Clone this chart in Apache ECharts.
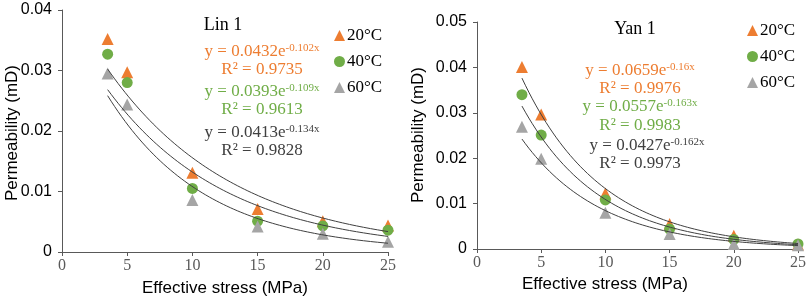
<!DOCTYPE html>
<html>
<head>
<meta charset="utf-8">
<script src="https://cdn.jsdelivr.net/npm/echarts@6/dist/echarts.min.js"></script>
<style>
html,body{margin:0;padding:0;background:#fff;}
#chart{width:809px;height:303px;}
</style>
</head>
<body>
<div id="chart"></div>
<script>
// ---- Data ----
const stress = [3.5, 5, 10, 15, 20, 25];
const tempNames = ['20°C', '40°C', '60°C'];

const lin20 = [0.0352, 0.0297, 0.0131, 0.0071, 0.0051, 0.0044];
const lin40 = [0.0327, 0.0280, 0.0105, 0.0051, 0.0043, 0.0036];
const lin60 = [0.0295, 0.0244, 0.0086, 0.0042, 0.0030, 0.0017];

const yan20 = [0.0401, 0.0296, 0.0122, 0.0055, 0.0029, 0.0010];
const yan40 = [0.0340, 0.0251, 0.0108, 0.0044, 0.0021, 0.0011];
const yan60 = [0.0269, 0.0199, 0.0080, 0.0033, 0.0011, 0.0008];

// exponential trendline coefficients shown in the chart: y = a * e^(b x)
const linFitA = [0.0432, 0.0393, 0.0413];
const linFitB = [-0.102, -0.109, -0.134];
const linR2 = ['0.9735', '0.9613', '0.9828'];
const yanFitA = [0.0659, 0.0557, 0.0427];
const yanFitB = [-0.16, -0.163, -0.162];
const yanR2 = ['0.9976', '0.9983', '0.9973'];

const xTicks = [0, 5, 10, 15, 20, 25];
const linYTicks = [0, 0.01, 0.02, 0.03, 0.04];
const yanYTicks = [0, 0.01, 0.02, 0.03, 0.04, 0.05];

// ---- Styles ----
const colors = ['#ED7D31', '#70AD47', '#A5A5A5'];
const eqColors = ['#ED7D31', '#70AD47', '#404040'];
const symbols = ['triangle', 'circle', 'triangle'];
const SERIF = '"Liberation Serif", "Times New Roman", serif';
const SANS = '"Liberation Sans", Arial, sans-serif';

function pairs(xs, ys) { return xs.map((x, i) => [x, ys[i]]); }
function trend(a, b) {
  const pts = [];
  const x0 = stress[0], x1 = stress[stress.length - 1];
  const n = 80;
  for (let i = 0; i <= n; i++) {
    const x = x0 + (x1 - x0) * i / n;
    pts.push([x, a * Math.exp(b * x)]);
  }
  return pts;
}
function fmtB(b) { return String(b).replace('-0.', '-0.'); }

const axisLineStyle = { color: '#595959', width: 1 };

function xAxisFor(gi) {
  return {
    type: 'value', gridIndex: gi, min: xTicks[0], max: xTicks[xTicks.length - 1], interval: 5,
    axisLine: { show: true, lineStyle: axisLineStyle },
    axisTick: { show: true, length: 4, lineStyle: axisLineStyle },
    splitLine: { show: false },
    axisLabel: { fontFamily: SERIF, fontSize: 16, color: '#595959', margin: 6 }
  };
}
function yAxisFor(gi, ticks) {
  return {
    type: 'value', gridIndex: gi, min: 0, max: ticks[ticks.length - 1], interval: 0.01,
    axisLine: { show: true, lineStyle: axisLineStyle },
    axisTick: { show: true, length: 4, lineStyle: axisLineStyle },
    splitLine: { show: false },
    axisLabel: {
      fontFamily: SANS, fontSize: 16, color: '#000', margin: 10,
      formatter: v => (v === 0 ? '0' : v.toFixed(2))
    }
  };
}

const series = [];
const linData = [lin20, lin40, lin60];
const yanData = [yan20, yan40, yan60];
[linData, yanData].forEach((set, gi) => {
  set.forEach((vals, k) => {
    series.push({
      name: tempNames[k], type: 'scatter', xAxisIndex: gi, yAxisIndex: gi,
      data: pairs(stress, vals), symbol: symbols[k], symbolSize: k === 1 ? 11 : 12,
      itemStyle: { color: colors[k], opacity: 1 }, z: 3
    });
  });
});
[[linFitA, linFitB], [yanFitA, yanFitB]].forEach(([A, B], gi) => {
  A.forEach((a, k) => {
    series.push({
      type: 'line', xAxisIndex: gi, yAxisIndex: gi, data: trend(a, B[k]),
      showSymbol: false, silent: true, smooth: false,
      lineStyle: { color: '#404040', width: 1 }, z: 4
    });
  });
});

function eqText(x, y, a, b, color) {
  return {
    type: 'text', left: x, top: y, z: 10,
    style: {
      text: '{m|y = ' + a + 'e}{s|' + b + 'x}',
      rich: {
        m: { fontFamily: SERIF, fontSize: 17, fill: color, verticalAlign: 'bottom', lineHeight: 18 },
        s: { fontFamily: SERIF, fontSize: 11, fill: color, verticalAlign: 'top', lineHeight: 18, padding: [0, 0, 6, 0] }
      },
      textAlign: 'center', textVerticalAlign: 'middle'
    }
  };
}
function r2Text(x, y, r, color) {
  return {
    type: 'text', left: x, top: y, z: 10,
    style: {
      text: 'R² = ' + r, fontFamily: SERIF, fontSize: 17, fill: color,
      textAlign: 'center', textVerticalAlign: 'middle'
    }
  };
}

const graphics = [];
// Titles
graphics.push({ type: 'text', x: 223, y: 25, style: { text: 'Lin 1', fontFamily: SERIF, fontSize: 18, fill: '#000', textAlign: 'center', textVerticalAlign: 'middle' } });
graphics.push({ type: 'text', x: 635, y: 29, style: { text: 'Yan 1', fontFamily: SERIF, fontSize: 18, fill: '#000', textAlign: 'center', textVerticalAlign: 'middle' } });
// Y axis names
graphics.push({ type: 'text', x: 12, y: 133, rotation: Math.PI / 2, style: { text: 'Permeability (mD)', fontFamily: SANS, fontSize: 17, fill: '#000', textAlign: 'center', textVerticalAlign: 'middle' } });
graphics.push({ type: 'text', x: 418, y: 135, rotation: Math.PI / 2, style: { text: 'Permeability (mD)', fontFamily: SANS, fontSize: 17, fill: '#000', textAlign: 'center', textVerticalAlign: 'middle' } });
// X axis names
graphics.push({ type: 'text', x: 225, y: 288, style: { text: 'Effective stress (MPa)', fontFamily: SANS, fontSize: 17, fill: '#000', textAlign: 'center', textVerticalAlign: 'middle' } });
graphics.push({ type: 'text', x: 605, y: 284, style: { text: 'Effective stress (MPa)', fontFamily: SANS, fontSize: 17, fill: '#000', textAlign: 'center', textVerticalAlign: 'middle' } });

// Equations — Lin 1
const linEqY = [52, 92, 133];
const linR2Y = [70, 110, 151];
linFitA.forEach((a, k) => {
  graphics.push({ type: 'text', x: 262, y: linEqY[k], style: {
    text: '{m|y = ' + a + 'e}{s|' + linFitB[k] + 'x}',
    rich: {
      m: { fontFamily: SERIF, fontSize: 17, fill: eqColors[k] },
      s: { fontFamily: SERIF, fontSize: 11, fill: eqColors[k], padding: [0, 0, 8, 0] }
    },
    textAlign: 'center', textVerticalAlign: 'middle' } });
  graphics.push({ type: 'text', x: 262, y: linR2Y[k], style: { text: 'R² = ' + linR2[k], fontFamily: SERIF, fontSize: 17, fill: eqColors[k], textAlign: 'center', textVerticalAlign: 'middle' } });
});
// Equations — Yan 1
const yanEqX = [640, 640, 647];
const yanEqY = [71, 107, 146];
const yanR2Y = [89, 126, 164];
yanFitA.forEach((a, k) => {
  graphics.push({ type: 'text', x: yanEqX[k], y: yanEqY[k], style: {
    text: '{m|y = ' + a + 'e}{s|' + yanFitB[k] + 'x}',
    rich: {
      m: { fontFamily: SERIF, fontSize: 17, fill: eqColors[k] },
      s: { fontFamily: SERIF, fontSize: 11, fill: eqColors[k], padding: [0, 0, 8, 0] }
    },
    textAlign: 'center', textVerticalAlign: 'middle' } });
  graphics.push({ type: 'text', x: 640, y: yanR2Y[k], style: { text: 'R² = ' + yanR2[k], fontFamily: SERIF, fontSize: 17, fill: eqColors[k], textAlign: 'center', textVerticalAlign: 'middle' } });
});

function legendFor(left, top) {
  return {
    orient: 'vertical', left: left, top: top, itemGap: 9, itemWidth: 11, itemHeight: 11,
    selectedMode: false,
    textStyle: { fontFamily: SERIF, fontSize: 17, color: '#000', padding: [0, 0, 0, -3] },
    data: tempNames.map((n, k) => ({ name: n, icon: symbols[k], itemStyle: { color: colors[k] } }))
  };
}

const chart = echarts.init(document.getElementById('chart'), null, { renderer: 'canvas' });
chart.setOption({
  animation: false,
  backgroundColor: '#fff',
  grid: [
    { left: 62, top: 10, width: 326, height: 242 },
    { left: 477, top: 22, width: 322, height: 227 }
  ],
  xAxis: [xAxisFor(0), xAxisFor(1)],
  yAxis: [yAxisFor(0, linYTicks), yAxisFor(1, yanYTicks)],
  legend: [legendFor(329, 22), legendFor(742, 17)],
  series: series,
  graphic: graphics
});
</script>
</body>
</html>
